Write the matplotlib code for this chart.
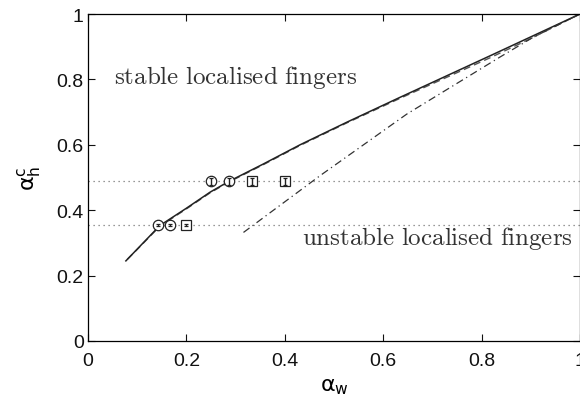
"""Critical alpha_h^c vs alpha_w: stable / unstable localised fingers."""
import numpy as np
import matplotlib
matplotlib.use("Agg")
import matplotlib.pyplot as plt

plt.rcParams["font.family"] = ["Liberation Sans", "DejaVu Sans"]

# upper boundary (solid) and its nearly coincident dashed companion
aw_solid = [0.077, 0.10, 0.146, 0.20, 0.248, 0.285, 0.356, 0.431, 0.526, 0.634, 0.817, 1.0]
ah_solid = [0.245, 0.281, 0.353, 0.406, 0.455, 0.487, 0.541, 0.600, 0.669, 0.745, 0.872, 1.0]
aw_dash = [0.080, 0.10, 0.146, 0.20, 0.248, 0.285, 0.356, 0.431, 0.526, 0.634, 0.817, 0.90, 1.0]
ah_dash = [0.250, 0.280, 0.351, 0.404, 0.453, 0.485, 0.539, 0.598, 0.667, 0.742, 0.866, 0.925, 1.0]

# lower branch (dash-dot)
aw_dd = [0.316, 0.472, 0.648, 0.837, 0.905, 1.0]
ah_dd = [0.332, 0.506, 0.694, 0.868, 0.929, 1.0]

# horizontal levels and measured points
levels = [0.488, 0.355]
circ_x = [[0.25, 0.2857], [0.1429, 0.1667]]
sq_x = [[0.3333, 0.40], [0.20]]
err = [0.010, 0.002]

fig = plt.figure(figsize=(5.8, 4.02), dpi=100)
ax = fig.add_axes([88 / 580, 60 / 402, 492 / 580, 327 / 402])

for lv in levels:
    ax.plot([0, 1], [lv, lv], ls=(0, (1, 3)), color="#777777", lw=0.9)

ax.plot(aw_dash, ah_dash, ls=(0, (5, 3)), color="#555555", lw=1.0)
ax.plot(aw_solid, ah_solid, "-", color="#222222", lw=1.1)
ax.plot(aw_dd, ah_dd, ls=(0, (6, 3, 1, 3)), color="#333333", lw=0.9)

for lv, cx, sx, e in zip(levels, circ_x, sq_x, err):
    ax.plot(cx, [lv] * len(cx), "o", ms=7.5, mfc="white", mec="#222222",
            mew=0.9, zorder=4)
    ax.plot(sx, [lv] * len(sx), "s", ms=6.5, mfc="white", mec="#222222",
            mew=0.9, zorder=4)
    ax.errorbar(cx + sx, [lv] * (len(cx) + len(sx)), yerr=e, fmt="none",
                ecolor="#222222", elinewidth=1.0, capsize=1.5, capthick=0.9,
                zorder=5)

ax.text(0.052, 0.81, r"$\mathrm{stable\ localised\ fingers}$", fontsize=18,
        math_fontfamily="cm", color="#333333", va="center", ha="left")
ax.text(0.434, 0.315, r"$\mathrm{unstable\ localised\ fingers}$", fontsize=18,
        math_fontfamily="cm", color="#333333", va="center", ha="left")

ax.set_xlim(0, 1)
ax.set_ylim(0, 1)
ax.set_xticks([0, 0.2, 0.4, 0.6, 0.8, 1])
ax.set_xticklabels(["0", "0.2", "0.4", "0.6", "0.8", "1"])
ax.set_yticks([0, 0.2, 0.4, 0.6, 0.8, 1])
ax.set_yticklabels(["0", "0.2", "0.4", "0.6", "0.8", "1"])
ax.tick_params(direction="in", top=True, right=True, length=5, width=0.8,
               labelsize=14, colors="#111111", pad=3)
ax.tick_params(axis="x", pad=8)
for s in ax.spines.values():
    s.set_linewidth(0.9)

ax.set_xlabel(r"$\mathrm{\alpha_w}$", fontsize=16, math_fontfamily="dejavusans",
              labelpad=4)
ax.set_ylabel(r"$\mathrm{\alpha_h^c}$", fontsize=16, math_fontfamily="dejavusans",
              labelpad=10)

fig.savefig("out.png", dpi=100)
